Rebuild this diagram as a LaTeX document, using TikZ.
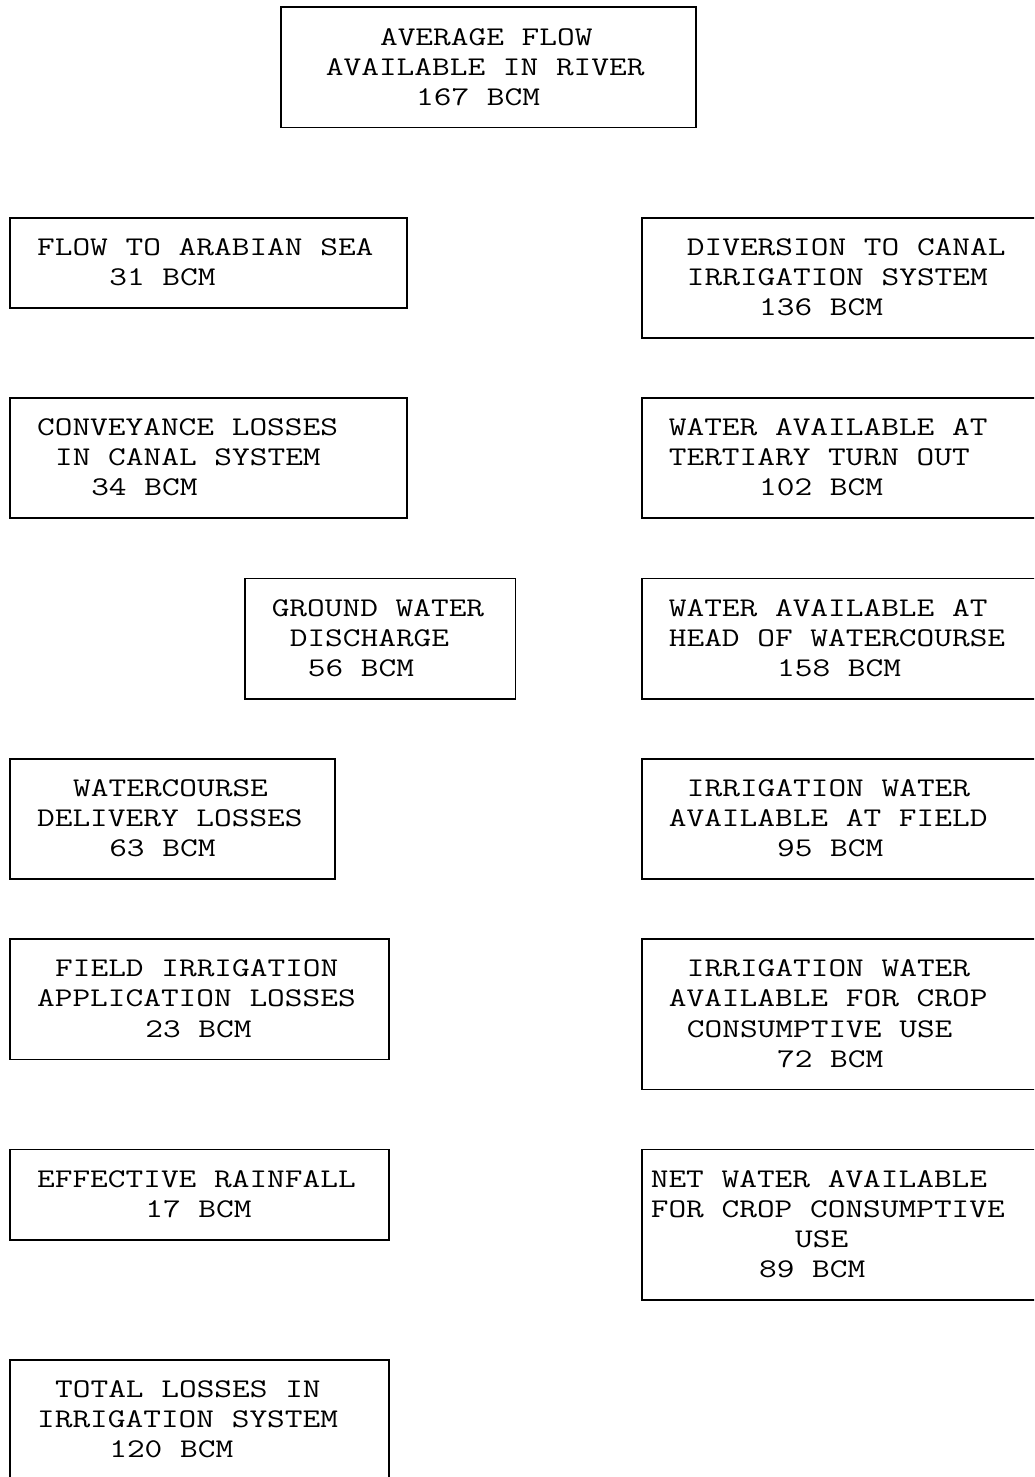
\documentclass[tikz,border=0pt]{standalone}
\usepackage{graphicx}
\newcommand\bxfont{\fontfamily{lmtt}\fontseries{m}\fontsize{27}{30}\selectfont}
\tikzset{
  bx/.style={draw=black, line width=1.8pt, inner sep=0pt, outer sep=0pt, anchor=north west},
  tx/.style={inner sep=0pt, outer sep=0pt, anchor=base west, font=\bxfont, text=black},
}
% box: name, first column, first row, last column, last row (character grid)
\newcommand\mkbox[5]{%
  \node[bx, minimum width={18.05*(#4-#2)}, minimum height={30.06*(#5-#3)}]
    (#1) at ({10+18.05*#2},{-(7.3+30.06*#3)}) {};}
% text line: name, column, row, text
\newcommand\mkline[4]{%
  \node[tx] (#1) at ({1+18.05*#2},{-(15+30.06*#3)}) {\scalebox{1.273}[1]{#4}};}
\begin{document}
\begin{tikzpicture}[x=1pt,y=1pt]
\useasboundingbox (0,0) rectangle (1034,-1477);
\clip (0,0) rectangle (1034,-1477);
% top
\mkbox{avg}{15}{0}{38}{4}
\mkline{avg1}{21}{1}{AVERAGE FLOW}
\mkline{avg2}{18}{2}{AVAILABLE IN RIVER}
\mkline{avg3}{23}{3}{167 BCM}
% left column
\mkbox{sea}{0}{7}{22}{10}
\mkline{sea1}{2}{8}{FLOW TO ARABIAN SEA}
\mkline{sea2}{6}{9}{31 BCM}
\mkbox{conv}{0}{13}{22}{17}
\mkline{conv1}{2}{14}{CONVEYANCE LOSSES}
\mkline{conv2}{3}{15}{IN CANAL SYSTEM}
\mkline{conv3}{5}{16}{34 BCM}
\mkbox{gw}{13}{19}{28}{23}
\mkline{gw1}{15}{20}{GROUND WATER}
\mkline{gw2}{16}{21}{DISCHARGE}
\mkline{gw3}{17}{22}{56 BCM}
\mkbox{wcl}{0}{25}{18}{29}
\mkline{wcl1}{4}{26}{WATERCOURSE}
\mkline{wcl2}{2}{27}{DELIVERY LOSSES}
\mkline{wcl3}{6}{28}{63 BCM}
\mkbox{fil}{0}{31}{21}{35}
\mkline{fil1}{3}{32}{FIELD IRRIGATION}
\mkline{fil2}{2}{33}{APPLICATION LOSSES}
\mkline{fil3}{8}{34}{23 BCM}
\mkbox{rain}{0}{38}{21}{41}
\mkline{rain1}{2}{39}{EFFECTIVE RAINFALL}
\mkline{rain2}{8}{40}{17 BCM}
\mkbox{tot}{0}{45}{21}{49}
\mkline{tot1}{3}{46}{TOTAL LOSSES IN}
\mkline{tot2}{2}{47}{IRRIGATION SYSTEM}
\mkline{tot3}{6}{48}{120 BCM}
% right column
\mkbox{div}{35}{7}{57}{11}
\mkline{div1}{38}{8}{DIVERSION TO CANAL}
\mkline{div2}{38}{9}{IRRIGATION SYSTEM}
\mkline{div3}{42}{10}{136 BCM}
\mkbox{tert}{35}{13}{57}{17}
\mkline{tert1}{37}{14}{WATER AVAILABLE AT}
\mkline{tert2}{37}{15}{TERTIARY TURN OUT}
\mkline{tert3}{42}{16}{102 BCM}
\mkbox{head}{35}{19}{57}{23}
\mkline{head1}{37}{20}{WATER AVAILABLE AT}
\mkline{head2}{37}{21}{HEAD OF WATERCOURSE}
\mkline{head3}{43}{22}{158 BCM}
\mkbox{fld}{35}{25}{57}{29}
\mkline{fld1}{38}{26}{IRRIGATION WATER}
\mkline{fld2}{37}{27}{AVAILABLE AT FIELD}
\mkline{fld3}{43}{28}{95 BCM}
\mkbox{crop}{35}{31}{57}{36}
\mkline{crop1}{38}{32}{IRRIGATION WATER}
\mkline{crop2}{37}{33}{AVAILABLE FOR CROP}
\mkline{crop3}{38}{34}{CONSUMPTIVE USE}
\mkline{crop4}{43}{35}{72 BCM}
\mkbox{net}{35}{38}{57}{43}
\mkline{net1}{36}{39}{NET WATER AVAILABLE}
\mkline{net2}{36}{40}{FOR CROP CONSUMPTIVE}
\mkline{net3}{44}{41}{USE}
\mkline{net4}{42}{42}{89 BCM}
\end{tikzpicture}
\end{document}
